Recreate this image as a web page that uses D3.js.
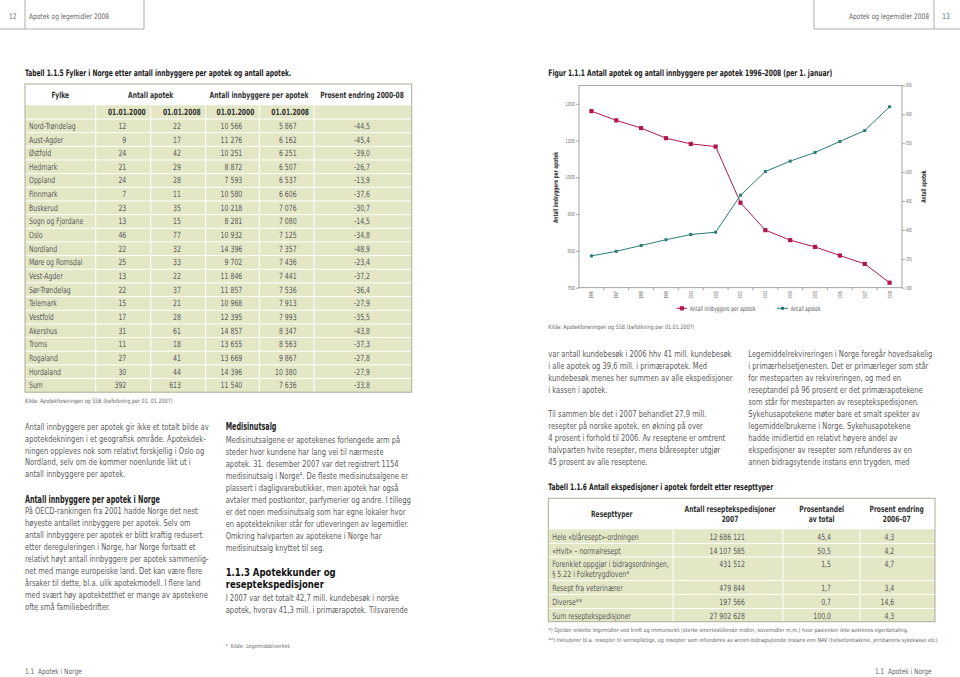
<!DOCTYPE html>
<html><head><meta charset="utf-8">
<script src="https://cdn.jsdelivr.net/npm/d3@7"></script>
<style>html,body{margin:0;padding:0;background:#fff}svg{display:block}</style>
</head><body>
<svg id="page" width="960" height="677"></svg>
<script>
// ---------------- DATA ----------------
const years = [1996,1997,1998,1999,2000,2001,2002,2003,2004,2005,2006,2007,2008];
const innbyggerePerApotek = [12300,12050,11840,11565,11410,11337,9810,9065,8793,8609,8375,8147,7636];
const antallApotek = [355,363,373,383,392,396,460,501,519,534,553,572,613];
const leftTicks = [7500,8500,9500,10500,11500,12500];
const rightTicks = [300,350,400,450,500,550,600,650];

const fylker = ["Nord-Trøndelag","Aust-Agder","Østfold","Hedmark","Oppland","Finnmark","Buskerud","Sogn og Fjordane","Oslo","Nordland","Møre og Romsdal","Vest-Agder","Sør-Trøndelag","Telemark","Vestfold","Akershus","Troms","Rogaland","Hordaland","Sum"];
const apotek2000 = [12,9,24,21,24,7,23,13,46,22,25,13,22,15,17,31,11,27,30,392];
const apotek2008 = [22,17,42,29,28,11,35,15,77,32,33,22,37,21,28,61,18,41,44,613];
const innb2000 = [10566,11276,10251,8872,7593,10580,10218,8281,10932,14396,9702,11846,11857,10968,12395,14857,13655,13669,14396,11540];
const innb2008 = [5867,6162,6251,6507,6537,6606,7076,7080,7125,7357,7436,7441,7536,7913,7993,8347,8563,9867,10380,7636];
const endring0008 = [-44.5,-45.4,-39.0,-26.7,-13.9,-37.6,-30.7,-14.5,-34.8,-48.9,-23.4,-37.2,-36.4,-27.9,-35.5,-43.8,-37.3,-27.8,-27.9,-33.8];

const resepttyper = [["Hele «blåresept»-ordningen"],["«Hvit» – normalresept"],["Forenklet oppgjør i bidragsordningen,","§ 5.22 i Folketrygdloven*"],["Resept fra veterinærer"],["Diverse**"],["Sum reseptekspedisjoner"]];
const antallEksp = [12686121,14107585,431512,479844,197566,27902628];
const andelTotal = [45.4,50.5,1.5,1.7,0.7,100.0];
const endring0607 = [4.3,4.2,4.7,3.4,14.6,4.3];

// ---------------- TEXT HELPERS ----------------
const svg = d3.select("#page");
const FONT = "'Liberation Sans Narrow','Arial Narrow','DejaVu Sans Condensed','Liberation Sans',sans-serif";
const meas = svg.append("text").attr("font-family",FONT).attr("visibility","hidden");
function mk(size, weight, fill, sample, target){
  meas.attr("font-size",size).attr("font-weight",weight).text(sample);
  const w = meas.node().getComputedTextLength();
  return {size, weight, fill, f: target / w};
}
const S = {
  body:  mk(9.6,400,"#5a5a5a","Antall innbyggere per apotek gir ikke et totalt bilde av",184),
  bodyB: mk(9.6,700,"#222","Antall innbyggere per apotek i Norge",135),
  h2:    mk(10.8,700,"#111","1.1.3 Apotekkunder og",110),
  title: mk(8.8,700,"#222","Tabell 1.1.5 Fylker i Norge etter antall innbyggere per apotek og antall apotek.",266.7),
  thead: mk(8.6,700,"#333","Antall innbyggere per apotek",99),
  cell:  mk(8.6,400,"#5c5c5c","Sogn og Fjordane",54.3),
  small: mk(6,400,"#666","Kilde: Apotekforeningen og SSB (befolkning per 01. 01 2007)",148),
  foot:  mk(5.6,400,"#666","*) Gjelder enkelte legemidler ved kreft og immunsvikt (sterke smertestillende midler, sovemidler m.m.) hvor pasienten ikke avkreves egenbetaling.",360),
  head:  mk(7.6,400,"#666","Apotek og legemidler 2008",80),
  tick:  mk(5.6,400,"#666","12500",9.5),
  legend:mk(6.6,400,"#555","Antall innbyggere per apotek",65.7),
  axT:   mk(6.6,700,"#333","Antall innbyggere per apotek",71)
};
meas.remove();
function T(g, x, y, str, st, anchor, rot){
  return g.append("text")
    .attr("transform", `translate(${x},${y})${rot ? ` rotate(${rot})` : ""} scale(${st.f},1)`)
    .attr("font-family",FONT).attr("font-size",st.size).attr("font-weight",st.weight)
    .attr("fill",st.fill).attr("text-anchor",anchor || "start").attr("dy","0.35em").text(str);
}
function para(g, x, y0, dy, lines, st){ lines.forEach((l,i)=>T(g,x,y0+i*dy,l,st)); }

const loc = d3.formatLocale({decimal:",",thousands:"\u00a0",grouping:[3],currency:["",""],minus:"-"});
const fInt = loc.format(",d"), f1 = loc.format(",.1f");

// ---------------- PAGE HEADERS / FOOTERS ----------------
const hd = svg.append("g").attr("stroke","#9a9a9a").attr("stroke-width",0.8);
hd.append("line").attr("x1",0).attr("x2",144).attr("y1",29).attr("y2",29);
hd.append("line").attr("x1",144).attr("x2",144).attr("y1",0).attr("y2",29);
hd.append("line").attr("x1",25).attr("x2",25).attr("y1",0).attr("y2",29);
hd.append("line").attr("x1",814).attr("x2",960).attr("y1",29).attr("y2",29);
hd.append("line").attr("x1",814).attr("x2",814).attr("y1",0).attr("y2",29);
hd.append("line").attr("x1",934).attr("x2",934).attr("y1",0).attr("y2",29);
T(svg,12.7,16.7,"12",S.head,"middle");
T(svg,29,16.7,"Apotek og legemidler 2008",S.head);
T(svg,929,16.7,"Apotek og legemidler 2008",S.head,"end");
T(svg,946,16.7,"13",S.head,"middle");
T(svg,25,671.7,"1.1\u00a0\u00a0Apotek i Norge",S.head);
T(svg,931.7,671.7,"1.1\u00a0\u00a0Apotek i Norge",S.head,"end");

// ---------------- TABLE 1.1.5 ----------------
const GREEN = "#e3e7c6", BORDER = "#a9ad9a";
const t1 = svg.append("g");
T(t1,25,73.3,"Tabell 1.1.5 Fylker i Norge etter antall innbyggere per apotek og antall apotek.",S.title);
const t1x0 = 25, t1x1 = 411.7, t1top = 84, t1hb = 105.3, t1db = 119, t1rh = 13.66;
const t1bottom = t1db + fylker.length * t1rh;
const colEdges1 = [95.7,150.7,205.7,259.3,314];
t1.append("rect").attr("x",t1x0).attr("y",t1hb).attr("width",t1x1-t1x0).attr("height",t1bottom-t1hb).attr("fill",GREEN);
const rowsY1 = d3.range(fylker.length).map(i => t1db + i*t1rh);
t1.selectAll("line.h").data(rowsY1).join("line")
  .attr("x1",t1x0).attr("x2",t1x1).attr("y1",d=>d).attr("y2",d=>d).attr("stroke","#fff").attr("stroke-width",1);
t1.selectAll("line.v").data(colEdges1).join("line")
  .attr("x1",d=>d).attr("x2",d=>d).attr("y1",t1hb).attr("y2",t1bottom).attr("stroke","#fff").attr("stroke-width",1);
t1.append("rect").attr("x",t1x0).attr("y",t1top).attr("width",t1x1-t1x0).attr("height",t1bottom-t1top)
  .attr("fill","none").attr("stroke",BORDER).attr("stroke-width",1);
T(t1,60.3,94.7,"Fylke",S.thead,"middle");
T(t1,150.7,94.7,"Antall apotek",S.thead,"middle");
T(t1,259,94.7,"Antall innbyggere per apotek",S.thead,"middle");
T(t1,362,94.7,"Prosent endring 2000-08",S.thead,"middle");
const dateLbl = ["01.01.2000","01.01.2008","01.01.2000","01.01.2008"];
dateLbl.forEach((d,i)=>T(t1,colEdges1[i+1]-5,112.3,d,S.thead,"end"));
const numX1 = [126.3,181,242.3,296.7,370];
fylker.forEach((f,i)=>{
  const y = t1db + i*t1rh + t1rh/2;
  T(t1,29,y,f,S.cell);
  T(t1,numX1[0],y,fInt(apotek2000[i]),S.cell,"end");
  T(t1,numX1[1],y,fInt(apotek2008[i]),S.cell,"end");
  T(t1,numX1[2],y,fInt(innb2000[i]),S.cell,"end");
  T(t1,numX1[3],y,fInt(innb2008[i]),S.cell,"end");
  T(t1,numX1[4],y,f1(endring0008[i]),S.cell,"end");
});
T(t1,25,401,"Kilde: Apotekforeningen og SSB (befolkning per 01. 01 2007)",S.small);

// ---------------- LEFT PAGE TEXT ----------------
const tx = svg.append("g");
para(tx,25,426.7,11.75,[
 "Antall innbyggere per apotek gir ikke et totalt bilde av",
 "apotekdekningen i et geografisk område. Apotekdek-",
 "ningen oppleves nok som relativt forskjellig i Oslo og",
 "Nordland, selv om de kommer noenlunde likt ut i",
 "antall innbyggere per apotek."],S.body);
T(tx,25,499.3,"Antall innbyggere per apotek i Norge",S.bodyB);
para(tx,25,511,11.95,[
 "På OECD-rankingen fra 2001 hadde Norge det nest",
 "høyeste antallet innbyggere per apotek. Selv om",
 "antall innbyggere per apotek er blitt kraftig redusert",
 "etter dereguleringen i Norge, har Norge fortsatt et",
 "relativt høyt antall innbyggere per apotek sammenlig-",
 "net med mange europeiske land. Det kan være flere",
 "årsaker til dette, bl.a. ulik apotekmodell. I flere land",
 "med svært høy apotektetthet er mange av apotekene",
 "ofte små familiebedrifter."],S.body);
T(tx,225.7,426.7,"Medisinutsalg",S.bodyB);
para(tx,225.7,439.3,12.04,[
 "Medisinutsalgene er apotekenes forlengede arm på",
 "steder hvor kundene har lang vei til nærmeste",
 "apotek. 31. desember 2007 var det registrert 1154",
 "medisinutsalg i Norge⁴. De fleste medisinutsalgene er",
 "plassert i dagligvarebutikker, men apotek har også",
 "avtaler med postkontor, parfymerier og andre. I tillegg",
 "er det noen medisinutsalg som har egne lokaler hvor",
 "en apotektekniker står for utleveringen av legemidler.",
 "Omkring halvparten av apotekene i Norge har",
 "medisinutsalg knyttet til seg."],S.body);
T(tx,225.7,572,"1.1.3 Apotekkunder og",S.h2);
T(tx,225.7,584.5,"reseptekspedisjoner",S.h2);
para(tx,225.7,597.5,11.9,[
 "I 2007 var det totalt 42,7 mill. kundebesøk i norske",
 "apotek, hvorav 41,3 mill. i primærapotek. Tilsvarende"],S.body);
T(tx,225.7,645.7,"⁴\u00a0\u00a0Kilde: Legemiddelverket",S.foot);

// ---------------- FIGURE 1.1.1 ----------------
const fg = svg.append("g");
T(fg,548.3,73.3,"Figur 1.1.1 Antall apotek og antall innbyggere per apotek 1996–2008 (per 1. januar)",S.title);
const px0 = 579, px1 = 902, py0 = 85.4, py1 = 287.7;
const x = d3.scalePoint().domain(years).range([px0,px1]).padding(0.5);
const yL = d3.scaleLinear().domain([7500,13000]).range([py1,py0]);
const yR = d3.scaleLinear().domain([300,650]).range([py1,py0]);
fg.append("rect").attr("x",px0).attr("y",py0).attr("width",px1-px0).attr("height",py1-py0)
  .attr("fill","none").attr("stroke","#8f8f8f").attr("stroke-width",0.8);
const axL = fg.append("g").attr("transform",`translate(${px0},0)`)
  .call(d3.axisLeft(yL).tickValues(leftTicks).tickSize(3).tickFormat(""));
const axR = fg.append("g").attr("transform",`translate(${px1},0)`)
  .call(d3.axisRight(yR).tickValues(rightTicks).tickSize(3).tickFormat(""));
[axL,axR].forEach(a=>{a.select(".domain").remove(); a.selectAll("line").attr("stroke","#8f8f8f").attr("stroke-width",0.8);});
leftTicks.forEach(v=>T(fg,px0-4,yL(v),String(v),S.tick,"end"));
rightTicks.forEach(v=>T(fg,px1+4,yR(v),String(v),S.tick,"start"));
const step = x.step();
fg.selectAll("line.xt").data(years.slice(0,-1)).join("line")
  .attr("x1",d=>x(d)+step/2).attr("x2",d=>x(d)+step/2).attr("y1",py1).attr("y2",py1+2.5)
  .attr("stroke","#8f8f8f").attr("stroke-width",0.8);
years.forEach(yv=>T(fg,x(yv),291,String(yv),S.tick,"end",-90));

const RED = "#b0184c", TEAL = "#2b7b79";
const dataRed = years.map((yv,i)=>({yv, v: innbyggerePerApotek[i]}));
const dataTeal = years.map((yv,i)=>({yv, v: antallApotek[i]}));
fg.append("path").datum(dataRed).attr("fill","none").attr("stroke",RED).attr("stroke-width",1)
  .attr("d",d3.line().x(d=>x(d.yv)).y(d=>yL(d.v)));
fg.selectAll("rect.mr").data(dataRed).join("rect")
  .attr("x",d=>x(d.yv)-2.1).attr("y",d=>yL(d.v)-2.1).attr("width",4.2).attr("height",4.2).attr("fill",RED);
fg.append("path").datum(dataTeal).attr("fill","none").attr("stroke",TEAL).attr("stroke-width",1)
  .attr("d",d3.line().x(d=>x(d.yv)).y(d=>yR(d.v)));
fg.selectAll("rect.mt").data(dataTeal).join("rect")
  .attr("x",d=>x(d.yv)-1.5).attr("y",d=>yR(d.v)-1.5).attr("width",3).attr("height",3).attr("fill",TEAL);

// legend
fg.append("line").attr("x1",676.7).attr("x2",687).attr("y1",308.3).attr("y2",308.3).attr("stroke",RED).attr("stroke-width",1);
fg.append("rect").attr("x",679.8).attr("y",306.2).attr("width",4.2).attr("height",4.2).attr("fill",RED);
T(fg,690,308.3,"Antall innbyggere per apotek",S.legend);
fg.append("line").attr("x1",777).attr("x2",788).attr("y1",308.3).attr("y2",308.3).attr("stroke",TEAL).attr("stroke-width",1);
fg.append("rect").attr("x",781).attr("y",306.8).attr("width",3).attr("height",3).attr("fill",TEAL);
T(fg,790.7,308.3,"Antall apotek",S.legend);
// axis titles
T(fg,556,187.5,"Antall innbyggere per apotek",S.axT,"middle",-90);
T(fg,923.3,186.5,"Antall apotek",S.axT,"middle",-90);
T(fg,548.3,327,"Kilde: Apotekforeningen og SSB (befolkning per 01.01.2007)",S.small);

// ---------------- RIGHT PAGE TEXT ----------------
para(tx,548.3,354,12,[
 "var antall kundebesøk i 2006 hhv 41 mill. kundebesøk",
 "i alle apotek og 39,6 mill. i primærapotek. Med",
 "kundebesøk menes her summen av alle ekspedisjoner",
 "i kassen i apotek."],S.body);
para(tx,548.3,414,12,[
 "Til sammen ble det i 2007 behandlet 27,9 mill.",
 "resepter på norske apotek, en økning på over",
 "4 prosent i forhold til 2006. Av reseptene er omtrent",
 "halvparten hvite resepter, mens blåresepter utgjør",
 "45 prosent av alle reseptene."],S.body);
para(tx,748.3,354,12,[
 "Legemiddelrekvireringen i Norge foregår hovedsakelig",
 "i primærhelsetjenesten. Det er primærleger som står",
 "for mesteparten av rekvireringen, og med en",
 "reseptandel på 96 prosent er det primærapotekene",
 "som står for mesteparten av reseptekspedisjonen.",
 "Sykehusapotekene møter bare et smalt spekter av",
 "legemiddelbrukerne i Norge. Sykehusapotekene",
 "hadde imidlertid en relativt høyere andel av",
 "ekspedisjoner av resepter som refunderes av en",
 "annen bidragsytende instans enn trygden, med"],S.body);

// ---------------- TABLE 1.1.6 ----------------
const t2 = svg.append("g");
T(t2,548.3,486.7,"Tabell 1.1.6 Antall ekspedisjoner i apotek fordelt etter resepttyper",S.title);
const t2x0 = 548.3, t2x1 = 935, t2top = 498.3;
const rowEdges2 = [529.3,543.5,557,580.5,594.5,608.5,621.7];
const colEdges2 = [673,783,860];
t2.append("rect").attr("x",t2x0).attr("y",rowEdges2[0]).attr("width",t2x1-t2x0)
  .attr("height",rowEdges2[rowEdges2.length-1]-rowEdges2[0]).attr("fill",GREEN);
t2.selectAll("line.h").data(rowEdges2.slice(1,-1)).join("line")
  .attr("x1",t2x0).attr("x2",t2x1).attr("y1",d=>d).attr("y2",d=>d).attr("stroke","#fff").attr("stroke-width",1);
t2.selectAll("line.v").data(colEdges2).join("line")
  .attr("x1",d=>d).attr("x2",d=>d).attr("y1",rowEdges2[0]).attr("y2",rowEdges2[rowEdges2.length-1]).attr("stroke","#fff").attr("stroke-width",1);
t2.append("rect").attr("x",t2x0).attr("y",t2top).attr("width",t2x1-t2x0).attr("height",rowEdges2[rowEdges2.length-1]-t2top)
  .attr("fill","none").attr("stroke",BORDER).attr("stroke-width",1);
T(t2,611.7,514,"Resepttyper",S.thead,"middle");
T(t2,730,509.3,"Antall reseptekspedisjoner",S.thead,"middle");
T(t2,730,519.3,"2007",S.thead,"middle");
T(t2,821.7,509.3,"Prosentandel",S.thead,"middle");
T(t2,821.7,519.3,"av total",S.thead,"middle");
T(t2,896.7,509.3,"Prosent endring",S.thead,"middle");
T(t2,896.7,519.3,"2006–07",S.thead,"middle");
resepttyper.forEach((lines,i)=>{
  const y = rowEdges2[i] + 7.2;
  lines.forEach((l,j)=>T(t2,552.3,y + j*9.4,l,S.cell));
  T(t2,745,y,fInt(antallEksp[i]),S.cell,"end");
  T(t2,831,y,f1(andelTotal[i]),S.cell,"end");
  T(t2,894.3,y,f1(endring0607[i]),S.cell,"end");
});
T(t2,548.3,629.7,"*) Gjelder enkelte legemidler ved kreft og immunsvikt (sterke smertestillende midler, sovemidler m.m.) hvor pasienten ikke avkreves egenbetaling.",S.foot);
T(t2,548.3,639.7,"**) Inkluderer bl.a. resepter til vernepliktige, og resepter som refunderes av annen bidragsytende instans enn NAV (helseforetakene, jernbanens sykekasse etc).",S.foot);
</script>
</body></html>
